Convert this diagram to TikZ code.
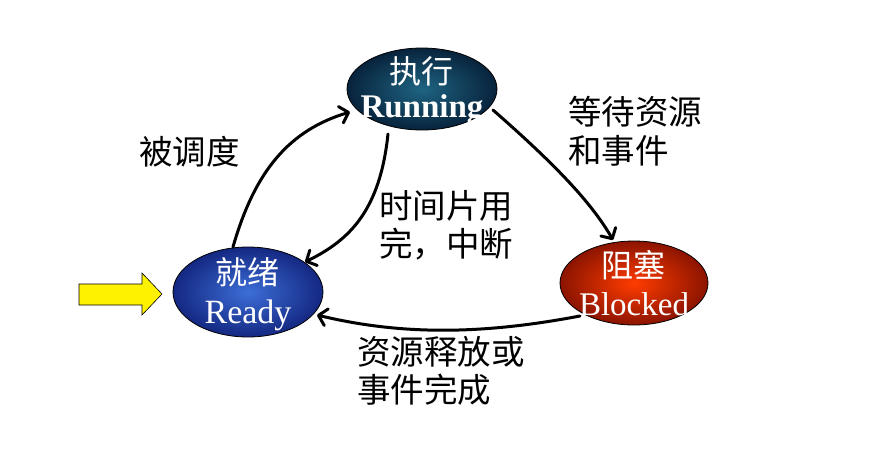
\documentclass[tikz,border=0pt]{standalone}
\usepackage{fontspec}
\setmainfont{Liberation Serif}
\newfontfamily\cjk{Noto Sans CJK SC}
\usetikzlibrary{arrows.meta,shapes.geometric}
\begin{document}
\begin{tikzpicture}[x=1pt,y=-1pt,
  state/.style={ellipse,draw=black,line width=0.8pt,minimum width=150pt,minimum height=86pt,inner sep=0pt},
  zh/.style={text=white,font=\cjk\fontsize{32}{34}\selectfont,inner sep=0pt},
  en/.style={text=white,font=\fontsize{33}{34}\selectfont,inner sep=0pt},
  conn/.style={line width=3pt,line cap=round,-{Straight Barb[length=8pt,width=17pt,line cap=round,line join=round]}},
  lab/.style={font=\cjk\fontsize{33.5}{38.5}\selectfont,align=left,anchor=north west,inner sep=0pt}
]
\useasboundingbox (0,0) rectangle (872,469);
\node[state,inner color={rgb,255:red,30;green,100;blue,130},outer color={rgb,255:red,8;green,35;blue,60},minimum height=82pt] (run) at (422,89) {};
\node[zh] (runzh) at (421,71) {执行};
\node[en,font=\fontsize{33}{34}\selectfont\bfseries] (runen) at (422,110) {Running};
\node[state,inner color={rgb,255:red,60;green,110;blue,215},outer color={rgb,255:red,20;green,40;blue,130},minimum height=90pt] (rdy) at (248,292) {};
\node[zh] (rdyzh) at (247,272) {就绪};
\node[en,font=\fontsize{34}{34}\selectfont] (rdyen) at (248,315) {Ready};
\node[state,inner color={rgb,255:red,255;green,60;blue,0},outer color={rgb,255:red,140;green,20;blue,0},minimum width=148pt,minimum height=84pt] (blk) at (634,283) {};
\node[zh] (blkzh) at (633,265) {阻塞};
\node[en] (blken) at (634,304) {Blocked};
\draw[line width=0.6pt,fill=yellow] (79,284) -- (142,284) -- (142,273) -- (162,294) -- (142,315) -- (142,305) -- (79,305) -- cycle;
\draw[conn] (233,247) .. controls (255,170) and (290,130) .. (350,112);
\draw[conn] (388,134) .. controls (380,210) and (350,240) .. (305,262);
\draw[conn] (493,110) .. controls (550,160) and (590,200) .. (613,240);
\draw[conn] (580,316) .. controls (480,335) and (400,335) .. (317,315);
\node[lab] (l1) at (139,136) {被调度};
\node[lab] (l2) at (379,190) {时间片用\\完，中断};
\node[lab] (l3) at (568,96) {等待资源\\和事件};
\node[lab] (l4) at (357,336) {资源释放或\\事件完成};
\end{tikzpicture}
\end{document}
